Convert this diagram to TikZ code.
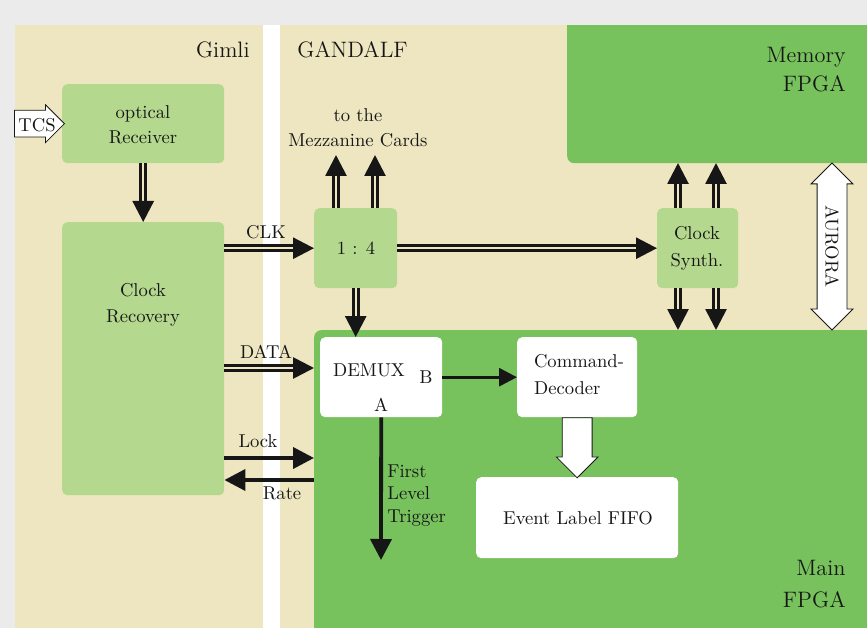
\documentclass[tikz,border=0pt]{standalone}
\usetikzlibrary{arrows.meta,shapes.arrows}
\definecolor{pagegray}{RGB}{235,235,235}
\definecolor{sand}{RGB}{238,230,192}
\definecolor{leaf}{RGB}{180,217,142}
\definecolor{fpgagreen}{RGB}{119,194,92}
\definecolor{ink}{RGB}{22,22,22}
\begin{document}
\begin{tikzpicture}[x=1pt,y=-1pt,
  txt/.style={font=\fontsize{10}{14}\selectfont, text=ink, inner sep=0pt, scale=1.86},
  bigtxt/.style={font=\fontsize{12}{15.6}\selectfont, text=ink, inner sep=0pt, scale=1.86},
  unit/.style={fill=leaf, rounded corners=5pt, anchor=north west, inner sep=0pt},
  logic/.style={fill=white, rounded corners=5pt, anchor=north west, inner sep=0pt},
  fpga/.style={fill=fpgagreen, rounded corners=7pt, anchor=north west, inner sep=0pt},
  bus/.style={draw=ink, line width=2.8pt, double=sand, double distance=2.4pt,
    -{Triangle[length=21pt,width=21pt]}},
  wire/.style={draw=ink, line width=3.8pt, -{Triangle[length=21pt,width=21pt]}},
  thinwire/.style={draw=ink, line width=3pt, -{Triangle[length=18pt,width=18pt]}},
  hollow/.style={draw=ink, fill=white, line width=0.8pt, inner sep=0pt},
]
\useasboundingbox (0,0) rectangle (867,628);

% page, board areas and separating strip
\fill[pagegray] (0,0) rectangle (867,628);
\fill[sand] (15,25) rectangle (867,628);
\fill[white] (263,25) rectangle (280,628);

% FPGA regions
\node[fpga, minimum width=340, minimum height=183] (mem) at (567,-20) {};
\node[fpga, minimum width=580, minimum height=320] (main) at (314,330) {};
\fill[pagegray] (0,0) rectangle (867,25);
\fill[pagegray] (0,0) rectangle (15,628);

% headings
\node[bigtxt, anchor=east] (gimli) at (250,50) {Gimli};
\node[bigtxt, anchor=west] (gandalf) at (297,50) {GANDALF};
\node[bigtxt, align=right, anchor=east] (memtext) at (846,70) {Memory\\FPGA};
\node[bigtxt, align=right, anchor=east, font=\fontsize{12}{17.2}\selectfont]
  (maintext) at (846,584) {Main\\FPGA};

% functional blocks
\node[unit, minimum width=162, minimum height=79] (rx) at (62,84) {};
\node[txt, align=center, font=\fontsize{10}{13.4}\selectfont] (rxtext) at (143,125) {optical\\Receiver};
\node[unit, minimum width=162, minimum height=273] (cr) at (62,222) {};
\node[txt, align=center] (crtext) at (143,305) {Clock\\Recovery};
\node[unit, minimum width=83, minimum height=80] (div) at (314,208) {};
\node[txt] (divtext) at (356,248) {1 : 4};
\node[unit, minimum width=81, minimum height=80] (cs) at (657,208) {};
\node[txt, align=center, font=\fontsize{10}{14.5}\selectfont] (cstext) at (697,248) {Clock\\Synth.};

\node[logic, minimum width=122, minimum height=80] (demux) at (320,337) {};
\node[txt] (demuxtext) at (369,370) {DEMUX};
\node[txt] (portb) at (426,377) {B};
\node[txt] (porta) at (381,405) {A};
\node[logic, minimum width=120, minimum height=80] (cmd) at (517,337) {};
\node[txt, align=left, font=\fontsize{10}{14.5}\selectfont] (cmdtext) at (579,375) {Command-\\Decoder};
\node[logic, minimum width=202, minimum height=81] (fifo) at (476,477) {};
\node[txt] (fifotext) at (578,518) {Event Label FIFO};

% incoming trigger control system link
\node[hollow, single arrow, single arrow head extend=5.5pt, minimum height=50,
  inner xsep=0pt, inner ysep=13pt, anchor=tip] (tcs) at ([xshift=3pt]rx.west) {};
\node[txt] (tcstext) at (37,125) {TCS};

% bus connections
\coordinate (mz1) at (336,155);
\coordinate (mz2) at (375,155);
\coordinate (up1) at (678,163);
\coordinate (up2) at (716,163);
\coordinate (dn1) at (678,330);
\coordinate (dn2) at (716,330);
\coordinate (datain) at (314,368);
\coordinate (lockin) at (314,458);
\coordinate (rateout) at (314,480);
\coordinate (flt) at (381,560);

\draw[bus] (rx.south) -- (cr.north);
\draw[bus] (cr.east |- div.west) -- (div.west);
\draw[bus] (div.north -| mz1) -- (mz1);
\draw[bus] (div.north -| mz2) -- (mz2);
\draw[bus] (div.east) -- (div.east -| cs.west);
\draw[bus] (cs.north -| up1) -- (up1);
\draw[bus] (cs.north -| up2) -- (up2);
\draw[bus] (cs.south -| dn1) -- (dn1);
\draw[bus] (cs.south -| dn2) -- (dn2);
\draw[bus] (div.south) -- (div.south |- demux.north);
\draw[bus] (cr.east |- datain) -- (datain);

% single signal lines
\draw[wire] (cr.east |- lockin) -- (lockin);
\draw[wire] (rateout) -- (cr.east |- rateout);
\draw[wire] (demux.south) -- (flt);
\draw[thinwire] (demux.east) -- (cmd.west);

% decoder feeds the label FIFO
\node[hollow, single arrow, single arrow head extend=6pt, inner ysep=14.5pt,
  minimum height=60, rotate=-90, anchor=tail] (cmdfifo) at (cmd.south) {};

% high speed link between the FPGAs
\node[hollow, double arrow, double arrow head extend=6pt, inner xsep=0pt,
  inner ysep=14.5pt, minimum height=167, rotate=-90] (aurora) at (832,246.5) {};
\node[txt, rotate=-90] (auroratext) at (aurora.center) {AURORA};

% labels
\node[txt, align=center, font=\fontsize{10}{13.4}\selectfont] (mezz) at (358,128) {to the\\Mezzanine Cards};
\node[txt] (clk) at (266,232) {CLK};
\node[txt] (data) at (266,352) {DATA};
\node[txt] (lock) at (258,441) {Lock};
\node[txt] (rate) at (282,493) {Rate};
\node[txt, align=left, anchor=north west, font=\fontsize{10}{12.1}\selectfont]
  (flttext) at (387,464) {First\\Level\\Trigger};
\end{tikzpicture}
\end{document}
